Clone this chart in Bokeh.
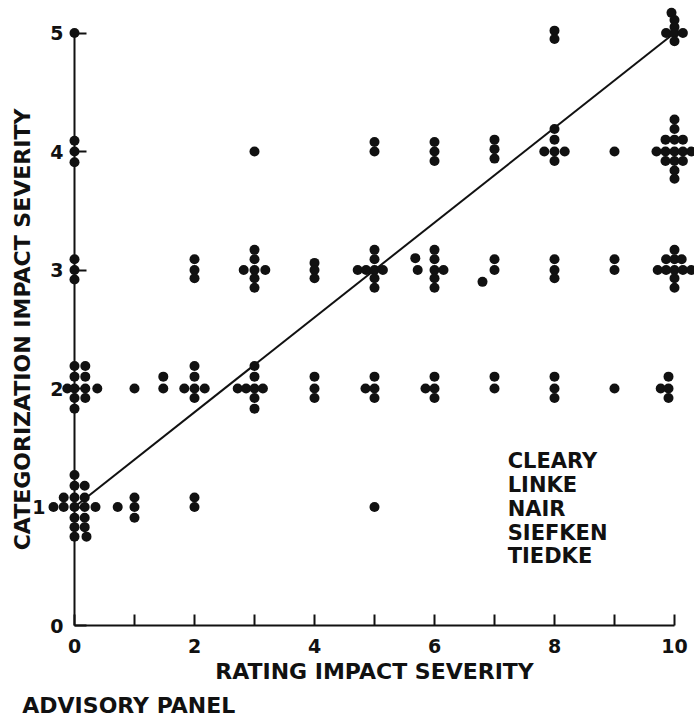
from bokeh.plotting import figure
from bokeh.models import Range1d, FixedTicker, Label, ColumnDataSource, LinearAxis
from bokeh.core.properties import value
from bokeh.embed import file_html
from bokeh.resources import INLINE

# Panel rating (x) against categorization (y); coincident answers are
# drawn as small stacks of dots around each integer pair.
rating = [
    # categorization 5
    0,
    8, 8,
    9.95, 10, 10, 9.86, 10, 10.14, 10,
    # categorization 4
    0, 0, 0,
    3,
    5, 5,
    6, 6, 6,
    7, 7, 7,
    8, 8, 7.83, 8, 8.17, 8,
    9,
    10, 10, 9.85, 10, 10.14, 9.7, 9.85, 10, 10.14, 10.28, 9.85, 10, 10.14, 10, 10,
    # categorization 3
    0, 0, 0,
    2, 2, 2,
    3, 3, 2.82, 3, 3.18, 3, 3,
    4, 4, 4,
    5, 5, 4.72, 4.86, 5, 5.14, 5, 5,
    5.68, 5.72, 6, 6, 6, 6.15, 6, 6,
    7, 7, 6.8,
    8, 8, 8,
    9, 9,
    10, 9.86, 10, 10.12, 9.72, 9.86, 10, 10.14, 10.28, 10, 10,
    # categorization 2
    0, 0.18, 0, 0.18, -0.12, 0, 0.18, 0.38, 0, 0.18, 0,
    1,
    1.48, 1.48,
    2, 2, 1.83, 2, 2.17, 2,
    3, 3, 2.72, 2.86, 3, 3.14, 3, 3,
    4, 4, 4,
    5, 4.85, 5, 5,
    6, 5.85, 6, 6,
    7, 7,
    8, 8, 8,
    9,
    9.9, 9.77, 9.9, 9.9,
    # categorization 1
    0, 0, 0.17, -0.18, 0, 0.17, -0.35, -0.18, 0, 0.17, 0.35, 0, 0.17, 0, 0.17, 0, 0.2,
    0.72,
    1, 1, 1,
    2, 2,
    5,
]
category = [
    # categorization 5
    5,
    5.02, 4.95,
    5.17, 5.11, 5.05, 5.0, 5.0, 5.0, 4.93,
    # categorization 4
    4.09, 4.0, 3.91,
    4.0,
    4.08, 4.0,
    4.08, 4.0, 3.92,
    4.1, 4.02, 3.94,
    4.19, 4.1, 4.0, 4.0, 4.0, 3.92,
    4.0,
    4.27, 4.19, 4.1, 4.1, 4.1, 4.0, 4.0, 4.0, 4.0, 4.0, 3.92, 3.92, 3.92, 3.84, 3.77,
    # categorization 3
    3.09, 3.0, 2.92,
    3.09, 3.0, 2.93,
    3.17, 3.09, 3.0, 3.0, 3.0, 2.93, 2.85,
    3.06, 3.0, 2.93,
    3.17, 3.09, 3.0, 3.0, 3.0, 3.0, 2.93, 2.85,
    3.1, 3.0, 3.17, 3.09, 3.0, 3.0, 2.93, 2.85,
    3.09, 3.0, 2.9,
    3.09, 3.0, 2.93,
    3.09, 3.0,
    3.17, 3.09, 3.09, 3.09, 3.0, 3.0, 3.0, 3.0, 3.0, 2.93, 2.85,
    # categorization 2
    2.19, 2.19, 2.1, 2.1, 2.0, 2.0, 2.0, 2.0, 1.92, 1.92, 1.83,
    2.0,
    2.1, 2.0,
    2.19, 2.1, 2.0, 2.0, 2.0, 1.92,
    2.19, 2.1, 2.0, 2.0, 2.0, 2.0, 1.92, 1.83,
    2.1, 2.0, 1.92,
    2.1, 2.0, 2.0, 1.92,
    2.1, 2.0, 2.0, 1.92,
    2.1, 2.0,
    2.1, 2.0, 1.92,
    2.0,
    2.1, 2.0, 2.0, 1.92,
    # categorization 1
    1.27, 1.18, 1.18, 1.08, 1.08, 1.08, 1.0, 1.0, 1.0, 1.0, 1.0, 0.91, 0.91, 0.83, 0.83, 0.75, 0.75,
    1.0,
    1.08, 1.0, 0.91,
    1.08, 1.0,
    1.0,
]

# least-squares line through the panel ratings
fit_intercept = 1.0
fit_slope = 0.4
fit_span = [0, 10]

x_ticks = [0, 2, 4, 6, 8, 10]
x_minor_ticks = [1, 3, 5, 7, 9]
y_ticks = [0, 1, 2, 3, 4, 5]
y_ticks_offset = [1]   # this label sits further out, clear of the dot stack

panel_members = ["CLEARY", "LINKE", "NAIR", "SIEFKEN", "TIEDKE"]

FONT = "DejaVu Sans"
INK = "#111111"

p = figure(
    width=694, height=725,
    x_range=Range1d(-74 / 60, 620 / 60),
    y_range=Range1d(-100 / 118.5, 625 / 118.5),
    output_backend="svg", toolbar_location=None, min_border=0,
)
p.outline_line_color = None
p.grid.visible = False
p.background_fill_color = "white"
p.border_fill_color = "white"

# x axis drawn along y = 0, ticks pointing inward
xa = p.xaxis[0]
xa.fixed_location = 0
xa.bounds = (0, 10)
xa.ticker = FixedTicker(ticks=x_ticks, minor_ticks=x_minor_ticks)
xa.major_tick_in = 11
xa.major_tick_out = 0
xa.minor_tick_in = 11
xa.minor_tick_out = 0
xa.major_label_standoff = 13
xa.axis_label = "RATING IMPACT SEVERITY"
xa.axis_label_standoff = 3

# y axis drawn along x = 0
ya = p.yaxis[0]
ya.fixed_location = 0
ya.bounds = (0, 5)
ya.ticker = FixedTicker(ticks=y_ticks)
ya.major_label_overrides = {t: "" for t in y_ticks_offset}
ya.major_tick_in = 12
ya.major_tick_out = 0
ya.minor_tick_in = 0
ya.minor_tick_out = 0
ya.major_label_standoff = 11
ya.axis_label = "CATEGORIZATION IMPACT SEVERITY"
ya.axis_label_standoff = 12

# second label-only axis for the offset tick label
ya2 = LinearAxis(
    fixed_location=0, bounds=(0, 5),
    ticker=FixedTicker(ticks=y_ticks_offset),
    axis_line_color=None, major_tick_line_color=None, minor_tick_line_color=None,
    major_tick_in=0, major_tick_out=0, minor_tick_in=0, minor_tick_out=0,
    major_label_standoff=29,
)
p.add_layout(ya2, "left")

for ax in (xa, ya, ya2):
    ax.axis_line_width = 2
    ax.major_tick_line_width = 2
    ax.minor_tick_line_width = 2
    ax.major_label_text_font = FONT
    ax.major_label_text_font_size = "19px"
    ax.major_label_text_font_style = "bold"
    ax.major_label_text_color = INK
    ax.axis_label_text_font = FONT
    ax.axis_label_text_font_size = "22px"
    ax.axis_label_text_font_style = "bold"
    ax.axis_label_text_color = INK
for ax in (xa, ya):
    ax.axis_line_color = INK
    ax.major_tick_line_color = INK
    ax.minor_tick_line_color = INK

fit_y = [fit_intercept + fit_slope * x for x in fit_span]
p.line(fit_span, fit_y, line_width=2, line_color=INK)

p.scatter(rating, category, size=10, marker="circle",
          fill_color=INK, line_color=None)

names = ColumnDataSource(dict(
    x=[7.22] * len(panel_members),
    y=[1.384 - 0.2 * i for i in range(len(panel_members))],
    text=panel_members,
))
p.text(x="x", y="y", text="text", source=names,
       text_font=value(FONT), text_font_size="21px", text_font_style="bold",
       text_baseline="middle", text_align="left", text_color=INK)

p.add_layout(Label(x=-0.87, y=-0.679, text="ADVISORY PANEL",
                   text_font=FONT, text_font_size="22px", text_font_style="bold",
                   text_baseline="middle", text_align="left",
                   text_color=INK))

open("out.html", "w").write(file_html(p, INLINE))
